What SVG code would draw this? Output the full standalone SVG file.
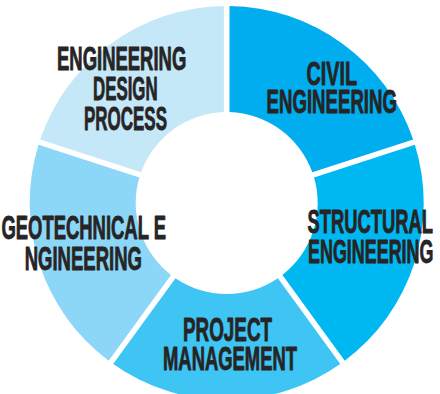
<svg xmlns="http://www.w3.org/2000/svg" width="440" height="394" viewBox="0 0 440 394">
<style>
.lbl{font-family:"Liberation Sans Narrow","Liberation Sans","DejaVu Sans Condensed",Arial,sans-serif;font-weight:bold;font-size:32.5px;fill:#262425;stroke:#262425;stroke-width:0.9px;stroke-linejoin:round;}
.seg{stroke:none;}
</style>
<rect x="0" y="0" width="440" height="394" fill="#ffffff"/>
<g id="civil-engineering">
<path class="seg" fill="#00aeef" d="M413.17,139.47 A197,197 0 0 0 229.50,6.02 L229.50,112.04 A91,91 0 0 1 312.34,172.23 Z"/>
<text class="lbl" x="306.5" y="85" textLength="50.5" lengthAdjust="spacingAndGlyphs">CIVIL</text>
<text class="lbl" x="266.5" y="113.3" textLength="130.5" lengthAdjust="spacingAndGlyphs">ENGINEERING</text>
</g>
<g id="structural-engineering">
<path class="seg" fill="#00b8f1" d="M344.75,360.72 A197,197 0 0 0 414.90,144.79 L314.07,177.55 A91,91 0 0 1 282.43,274.94 Z"/>
<text class="lbl" x="307.5" y="233.3" textLength="125.5" lengthAdjust="spacingAndGlyphs">STRUCTURAL</text>
<text class="lbl" x="308" y="263.3" textLength="125.5" lengthAdjust="spacingAndGlyphs">ENGINEERING</text>
</g>
<g id="project-management">
<path class="seg" fill="#3ec5f4" d="M113.18,364.01 A197,197 0 0 0 340.22,364.01 L277.90,278.23 A91,91 0 0 1 175.50,278.23 Z"/>
<text class="lbl" x="183" y="341" textLength="89" lengthAdjust="spacingAndGlyphs">PROJECT</text>
<text class="lbl" x="163" y="370" textLength="134" lengthAdjust="spacingAndGlyphs">MANAGEMENT</text>
</g>
<g id="geotechnical-engineering">
<path class="seg" fill="#8cd7f7" d="M38.50,144.79 A197,197 0 0 0 108.65,360.72 L170.97,274.94 A91,91 0 0 1 139.33,177.55 Z"/>
<text class="lbl" x="1.5" y="239.3" textLength="164.5" lengthAdjust="spacingAndGlyphs">GEOTECHNICAL E</text>
<text class="lbl" x="24.7" y="270" textLength="117.3" lengthAdjust="spacingAndGlyphs">NGINEERING</text>
</g>
<g id="engineering-design-process">
<path class="seg" fill="#c5e8f8" d="M223.90,6.02 A197,197 0 0 0 40.23,139.47 L141.06,172.23 A91,91 0 0 1 223.90,112.04 Z"/>
<text class="lbl" x="57" y="70" textLength="129.3" lengthAdjust="spacingAndGlyphs">ENGINEERING</text>
<text class="lbl" x="93" y="100" textLength="64.6" lengthAdjust="spacingAndGlyphs">DESIGN</text>
<text class="lbl" x="84" y="130" textLength="83" lengthAdjust="spacingAndGlyphs">PROCESS</text>
</g>
<g id="connectors"></g>
</svg>
